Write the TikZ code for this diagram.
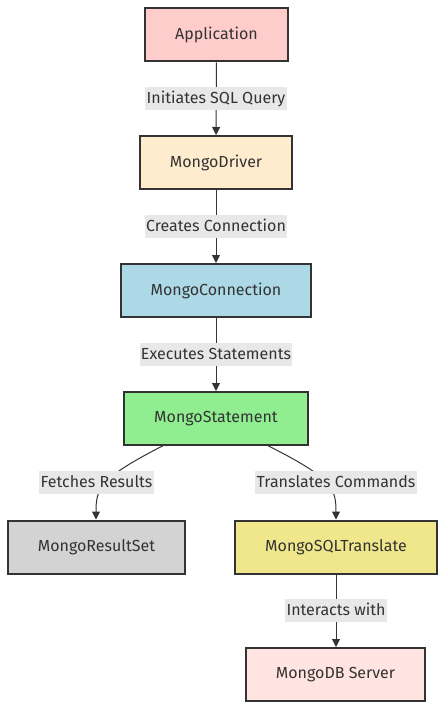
\documentclass[tikz,border=0pt]{standalone}
\usepackage{fontspec}
\setmainfont{Fira Sans}
\usetikzlibrary{arrows.meta}
\definecolor{edge}{HTML}{333333}
\definecolor{lblbg}{HTML}{E8E8E8}
\definecolor{cApp}{HTML}{FFCCCC}
\definecolor{cDrv}{HTML}{FFEBCD}
\definecolor{cConn}{HTML}{ADD8E6}
\definecolor{cStmt}{HTML}{90EE90}
\definecolor{cRes}{HTML}{D3D3D3}
\definecolor{cTr}{HTML}{F0E68C}
\definecolor{cSrv}{HTML}{FFE4E1}
\tikzset{
  box/.style={draw=edge, line width=1.5pt, minimum height=53*0.75pt, inner sep=0pt, font=\fontsize{12}{14}\selectfont, text=edge},
  lbl/.style={fill=lblbg, inner xsep=1pt, inner ysep=0pt, text height=12pt, text depth=5pt, font=\fontsize{12}{14}\selectfont, text=edge},
  conn/.style={draw=edge, line width=0.75pt, -{Triangle[length=6pt,width=6pt]}}
}
\begin{document}
\begin{tikzpicture}[x=0.75pt,y=-0.75pt]
\useasboundingbox[fill=white] (0,0) rectangle (445,710);
\node[box, fill=cApp, minimum width=143*0.75pt] (app) at (216.5,35) {Application};
\node[box, fill=cDrv, minimum width=152*0.75pt] (drv) at (216,162.5) {MongoDriver};
\node[box, fill=cConn, minimum width=190*0.75pt] (conn) at (216,290.5) {MongoConnection};
\node[box, fill=cStmt, minimum width=184*0.75pt] (stmt) at (216,418.5) {MongoStatement};
\node[box, fill=cRes, minimum width=177*0.75pt] (res) at (96.5,547) {MongoResultSet};
\node[box, fill=cTr, minimum width=202*0.75pt] (tr) at (336,547) {MongoSQLTranslate};
\node[box, fill=cSrv, minimum width=179*0.75pt] (srv) at (335.5,674.5) {MongoDB Server};

\draw[conn] (app) -- (drv);
\draw[conn] (drv) -- (conn);
\draw[conn] (conn) -- (stmt);
\coordinate (s1) at (163,445.7);
\coordinate (s2) at (268,445.7);
\draw[conn] (s1) .. controls (100,478) and (96,488) .. (res.north -| 96,0);
\draw[conn] (s2) .. controls (332,478) and (336,488) .. (tr.north);
\draw[conn] (tr) -- (tr |- srv.north);

\node[lbl] (l1) at (216,98.5) {Initiates SQL Query};
\node[lbl] (l2) at (216,226.5) {Creates Connection};
\node[lbl] (l3) at (216,354.5) {Executes Statements};
\node[lbl] (l4) at (96.5,482.5) {Fetches Results};
\node[lbl] (l5) at (336,482.5) {Translates Commands};
\node[lbl] (l6) at (336,610.5) {Interacts with};
\end{tikzpicture}
\end{document}
